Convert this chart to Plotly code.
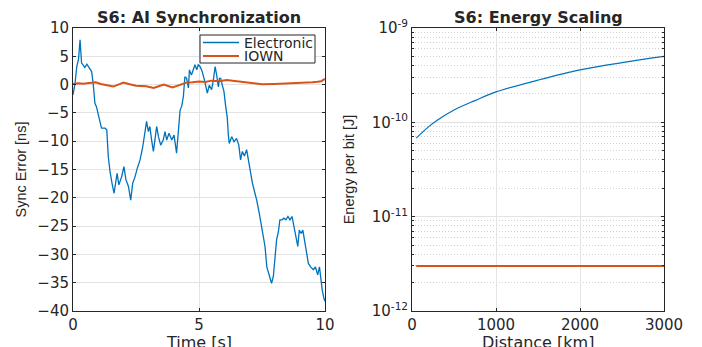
import plotly.graph_objects as go

# ---------------- data: left panel (Sync error) ----------------
elec_t = [0.0, 0.08, 0.15, 0.22, 0.28, 0.34, 0.40, 0.47, 0.55, 0.63, 0.74, 0.80, 0.87, 0.93,
          1.00, 1.07, 1.13, 1.27, 1.34, 1.40, 1.47, 1.56, 1.63, 1.70, 1.75, 1.82, 1.93, 2.02,
          2.10, 2.20, 2.29, 2.37, 2.46, 2.55, 2.66, 2.76, 2.85, 2.92, 2.99, 3.05, 3.12, 3.19,
          3.25, 3.32, 3.39, 3.48, 3.58, 3.65, 3.72, 3.81, 3.92, 4.01, 4.11, 4.18, 4.25, 4.31,
          4.38, 4.44, 4.51, 4.58, 4.62, 4.70, 4.78, 4.84, 4.91, 4.97, 5.04, 5.12, 5.20, 5.28,
          5.33, 5.41, 5.50, 5.57, 5.64, 5.70, 5.77, 5.81, 5.86, 5.94, 5.99, 6.06, 6.12, 6.16,
          6.20, 6.30, 6.39, 6.49, 6.58, 6.65, 6.72, 6.80, 6.89, 6.96, 7.05, 7.12, 7.22, 7.29,
          7.39, 7.49, 7.55, 7.62, 7.69, 7.79, 7.88, 7.95, 8.02, 8.08, 8.15, 8.21, 8.29, 8.37,
          8.45, 8.53, 8.61, 8.69, 8.77, 8.85, 8.92, 8.98, 9.05, 9.12, 9.18, 9.25, 9.34, 9.43,
          9.54, 9.62, 9.71, 9.78, 9.83, 9.89, 9.96, 10.0]
elec_err = [-1.8, 0.2, 3.2, 4.5, 7.9, 3.8, 3.5, 3.0, 3.6, 3.0, 2.3, 0.2, -3.3, -3.9,
            -5.4, -6.8, -7.7, -7.7, -8.0, -12.7, -15.4, -17.7, -19.2, -17.1, -15.7, -17.7, -16.3, -14.5,
            -16.8, -18.0, -20.4, -17.4, -16.3, -14.8, -13.3, -11.2, -8.6, -6.5, -8.3, -7.4, -9.8, -11.8,
            -9.8, -7.4, -9.2, -10.7, -9.8, -8.3, -9.8, -8.6, -9.8, -8.9, -12.1, -8.6, -4.5, -3.9,
            -2.1, 1.4, 1.1, -0.6, 2.6, 1.7, 2.9, 3.5, 2.6, 3.5, 3.2, 2.4, 1.1, -0.4,
            -1.5, -0.1, -0.9, 0.8, 3.2, 1.7, -0.4, 1.1, 1.1, -0.4, -1.2, -3.9, -5.7, -8.6,
            -10.4, -9.2, -10.1, -9.5, -10.7, -13.3, -11.8, -12.6, -11.5, -13.3, -15.7, -17.4, -19.2, -20.4,
            -22.7, -25.1, -26.3, -28.6, -32.2, -33.9, -35.1, -33.9, -31.0, -27.4, -26.0, -23.9, -23.9, -23.6,
            -23.9, -23.3, -23.9, -23.3, -25.1, -26.9, -28.6, -25.7, -26.3, -25.7, -27.4, -29.8, -31.6, -32.2,
            -32.7, -32.2, -33.6, -32.2, -34.5, -36.3, -37.8, -38.3]

iown_t = [0.0, 0.2, 0.4, 0.65, 0.9, 1.1, 1.3, 1.6, 1.8, 2.0, 2.25, 2.5, 2.9, 3.2, 3.4, 3.6, 3.95,
          4.2, 4.5, 4.75, 5.0, 5.25, 5.5, 5.8, 6.1, 6.5, 6.8, 7.2, 7.5, 8.0, 8.4, 8.7, 9.0,
          9.3, 9.5, 9.7, 9.85, 10.0]
iown_err = [0.1, 0.25, 0.15, 0.3, 0.4, 0.1, -0.1, -0.35, 0.0, 0.35, 0.05, -0.2, -0.3, -0.6, -0.3,
            0.0, -0.5, -0.05, 0.35, 0.4, 0.55, 0.45, 0.7, 0.6, 0.8, 0.6, 0.45, 0.3, 0.05, 0.1,
            0.15, 0.2, 0.3, 0.35, 0.4, 0.5, 0.6, 1.0]

# ---------------- data: right panel (Energy scaling) ----------------
dist_km = [50, 100, 200, 300, 500, 750, 1000, 1500, 2000, 2500, 3000]
elec_energy = [6.8e-11, 7.5e-11, 9.0e-11, 1.05e-10, 1.35e-10, 1.7e-10, 2.1e-10,
               2.8e-10, 3.6e-10, 4.3e-10, 5.0e-10]
iown_dist = [50, 3000]
iown_energy = [3.0e-12, 3.0e-12]

series_names = ["Electronic", "IOWN"]
sync_yticks = [10, 5, 0, -5, -10, -15, -20, -25, -30, -35, -40]
time_ticks = [0, 5, 10]
dist_ticks = [0, 1000, 2000, 3000]
energy_ticks = [1e-12, 1e-11, 1e-10, 1e-9]
energy_ticklabels = ["10<sup>-12</sup>", "10<sup>-11</sup>", "10<sup>-10</sup>", "10<sup>-9</sup>"]
energy_minor = [m * 10.0 ** e for e in (-12, -11, -10) for m in range(2, 10)]

BLUE = "#0072BD"
ORANGE = "#D95319"
AX = "#262626"
GRID = "#E3E3E3"
FONT = "DejaVu Sans"
YFONT = "Liberation Sans"

# page body has an 8px margin: the figure fills the rest of the 702x347 window
OFF = 8
W, H = 702 - OFF, 347 - OFF


def px(x):
    return (x - OFF) / W


def py(y):
    return 1 - (y - OFF) / H


fig = go.Figure()
fig.add_trace(go.Scatter(x=elec_t, y=elec_err, mode="lines", name=series_names[0],
                         line=dict(color=BLUE, width=1.3), xaxis="x", yaxis="y"))
fig.add_trace(go.Scatter(x=iown_t, y=iown_err, mode="lines", name=series_names[1],
                         line=dict(color=ORANGE, width=2), xaxis="x", yaxis="y"))
fig.add_trace(go.Scatter(x=dist_km, y=elec_energy, mode="lines", name=series_names[0],
                         line=dict(color=BLUE, width=1.2, shape="spline"), xaxis="x2", yaxis="y2"))
fig.add_trace(go.Scatter(x=iown_dist, y=iown_energy, mode="lines", name=series_names[1],
                         line=dict(color=ORANGE, width=2), xaxis="x2", yaxis="y2"))

common = dict(showline=True, mirror="ticks", linecolor=AX, linewidth=1, ticks="inside",
              ticklen=3, tickcolor=AX, showgrid=True, gridcolor=GRID, gridwidth=1,
              zeroline=False, automargin=False,
              tickfont=dict(family=FONT, size=15, color=AX))

ydom = [py(311), py(28)]

# compact legend box drawn inside the left panel (MATLAB style)
leg_x0, leg_x1, leg_y0, leg_y1 = 200, 315, 35, 63
leg_rows = [42.5, 56]
leg_colors = [BLUE, ORANGE]
leg_widths = [1.3, 2]
shapes = [dict(type="rect", xref="paper", yref="paper", x0=px(leg_x0), x1=px(leg_x1),
               y0=py(leg_y1), y1=py(leg_y0), line=dict(color=AX, width=1), fillcolor="white",
               layer="above")]
annotations = []
for name, row, col, lw in zip(series_names, leg_rows, leg_colors, leg_widths):
    shapes.append(dict(type="line", xref="paper", yref="paper", x0=px(203), x1=px(239),
                       y0=py(row), y1=py(row), line=dict(color=col, width=lw), layer="above"))
    annotations.append(dict(text=name, x=px(242), y=py(row), xref="paper", yref="paper",
                            xanchor="left", yanchor="middle", showarrow=False,
                            font=dict(family=FONT, size=14, color=AX)))

for title, xl, xr in [("S6: AI Synchronization", 73, 325), ("S6: Energy Scaling", 412, 664)]:
    annotations.append(dict(text="<b>" + title + "</b>", x=px((xl + xr) / 2), y=py(17),
                            xref="paper", yref="paper", xanchor="center", yanchor="middle",
                            showarrow=False, font=dict(family=FONT, size=16, color=AX)))

# x-axis titles (placed low, partly cut by the window edge as in the original)
for title, xl, xr in [("Time [s]", 73, 325), ("Distance [km]", 412, 664)]:
    annotations.append(dict(text=title, x=px((xl + xr) / 2), y=py(342),
                            xref="paper", yref="paper", xanchor="center", yanchor="middle",
                            showarrow=False, font=dict(family=FONT, size=16, color=AX)))

fig.update_layout(
    width=W, height=H,
    margin=dict(l=0, r=0, t=0, b=0),
    paper_bgcolor="white", plot_bgcolor="white",
    font=dict(family=FONT, color=AX),
    showlegend=False,
    xaxis=dict(domain=[px(73), px(325)], range=[0, 10], tickvals=time_ticks,
               anchor="y", **common),
    yaxis=dict(domain=ydom, range=[-40, 10], tickvals=sync_yticks,
               title=dict(text="Sync Error [ns]", standoff=7,
                          font=dict(family=YFONT, size=14.5, color=AX)),
               anchor="x", **common),
    xaxis2=dict(domain=[px(412), px(664)], range=[0, 3000], tickvals=dist_ticks,
                anchor="y2", **common),
    yaxis2=dict(domain=ydom, type="log", range=[-12, -9], tickvals=energy_ticks,
                ticktext=energy_ticklabels,
                minor=dict(tickvals=energy_minor, ticks="inside", ticklen=2, tickcolor=AX,
                           showgrid=True, gridcolor="#D0D0D0", griddash="1px,2px", gridwidth=1),
                title=dict(text="Energy per bit [J]", standoff=13,
                           font=dict(family=YFONT, size=14.5, color=AX)),
                anchor="x2", **common),
    shapes=shapes,
    annotations=annotations,
)

fig.write_html("out.html")
